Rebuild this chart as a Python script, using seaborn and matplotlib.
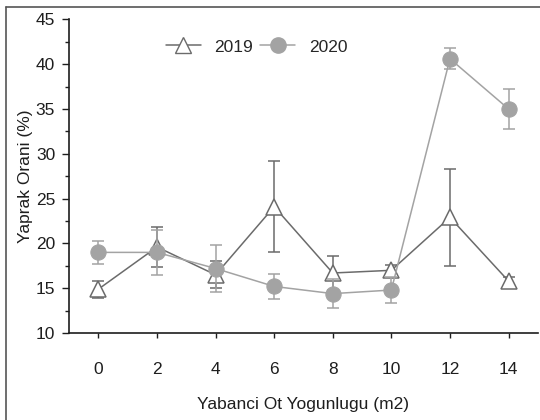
import pandas as pd
import numpy as np
import matplotlib
matplotlib.use('Agg')
import matplotlib.pyplot as plt
import seaborn as sns
from matplotlib.lines import Line2D

# Weed density (m2) and leaf ratio (%) per year, with error bar half-widths
density = [0, 2, 4, 6, 8, 10, 12, 14]
leaf_2019 = [14.9, 19.6, 16.5, 24.1, 16.7, 17.0, 22.9, 15.8]
err_2019 = [0.95, 2.2, 1.5, 5.1, 1.9, 0.6, 5.45, 0.4]
leaf_2020 = [19.0, 19.0, 17.2, 15.2, 14.4, 14.8, 40.6, 35.0]
err_2020 = [1.25, 2.5, 2.6, 1.35, 1.65, 1.4, 1.15, 2.25]

sns.set_style("ticks")
plt.rcParams['font.family'] = ['Liberation Sans', 'DejaVu Sans']
plt.rcParams['font.size'] = 12.5

df = pd.DataFrame({
    'density': density * 2,
    'leaf': leaf_2019 + leaf_2020,
    'err': err_2019 + err_2020,
    'year': ['2019'] * len(density) + ['2020'] * len(density),
})

fig = plt.figure(figsize=(5.4, 4.2), dpi=100)
ax = fig.add_axes([0.128, 0.207, 0.868, 0.747])

c19 = '#6b6b6b'
c20 = '#a3a3a3'
txt = '#1e1e1e'

# 2019: hollow triangles, darker gray (error bars sit behind the markers)
d19 = df[df['year'] == '2019']
eb19 = ax.errorbar(d19['density'], d19['leaf'], yerr=d19['err'], fmt='none',
                   ecolor=c19, elinewidth=1.1, capsize=4, capthick=1.1)
for art in eb19.lines[1] + eb19.lines[2]:
    art.set_zorder(1.5)
n0 = len(ax.lines)
sns.lineplot(data=d19, x='density', y='leaf', ax=ax, color=c19, linewidth=1.1,
             marker='^', markersize=11, markerfacecolor='white',
             markeredgecolor=c19, markeredgewidth=1.1, legend=False)
for ln in ax.lines[n0:]:
    ln.set_zorder(3)
    ln.set_markerfacecolor('white')

# 2020: filled circles, lighter gray
d20 = df[df['year'] == '2020']
eb20 = ax.errorbar(d20['density'], d20['leaf'], yerr=d20['err'], fmt='none',
                   ecolor=c20, elinewidth=1.1, capsize=4, capthick=1.1)
for art in eb20.lines[1] + eb20.lines[2]:
    art.set_zorder(4)
n1 = len(ax.lines)
sns.lineplot(data=d20, x='density', y='leaf', ax=ax, color=c20, linewidth=1.1,
             marker='o', markersize=11, markerfacecolor=c20,
             markeredgecolor=c20, legend=False)
for ln in ax.lines[n1:]:
    ln.set_zorder(5)

ax.set_xlim(-1, 15)
ax.set_ylim(10, 45)
ax.set_xticks(density)
ax.set_yticks(np.arange(10, 46, 5))
ax.set_yticks(np.arange(10, 46, 2.5), minor=True)
ax.tick_params(axis='x', length=3.5, width=1, pad=17, colors=txt)
ax.tick_params(axis='y', which='major', length=5, width=1, pad=5, colors=txt)
ax.tick_params(axis='y', which='minor', length=3, width=1, colors=txt)
for s in ['top', 'right']:
    ax.spines[s].set_visible(False)
for s in ['left', 'bottom']:
    ax.spines[s].set_color(txt)
    ax.spines[s].set_linewidth(1.2)

ax.set_xlabel('Yabanci Ot Yogunlugu (m2)', labelpad=15, color=txt)
ax.set_ylabel('Yaprak Orani (%)', labelpad=2, color=txt)

handles = [
    Line2D([], [], color=c19, linewidth=1.1, marker='^', markersize=11,
           markerfacecolor='white', markeredgecolor=c19),
    Line2D([], [], color=c20, linewidth=1.1, marker='o', markersize=11,
           markerfacecolor=c20, markeredgecolor=c20),
]
ax.legend(handles, ['2019', '2020'], ncol=2, frameon=False, loc='center',
          bbox_to_anchor=(0.40, 0.912), handlelength=2.0, handletextpad=0.8,
          columnspacing=0.4, fontsize=12.5)

# Outer frame of the figure (left and top edges visible)
fig.add_artist(Line2D([6 / 540, 6 / 540], [0, 1 - 7 / 420], color='#555555', linewidth=1.2))
fig.add_artist(Line2D([6 / 540, 1], [1 - 7 / 420, 1 - 7 / 420], color='#555555', linewidth=1.2))

fig.savefig('out.png', dpi=100)
